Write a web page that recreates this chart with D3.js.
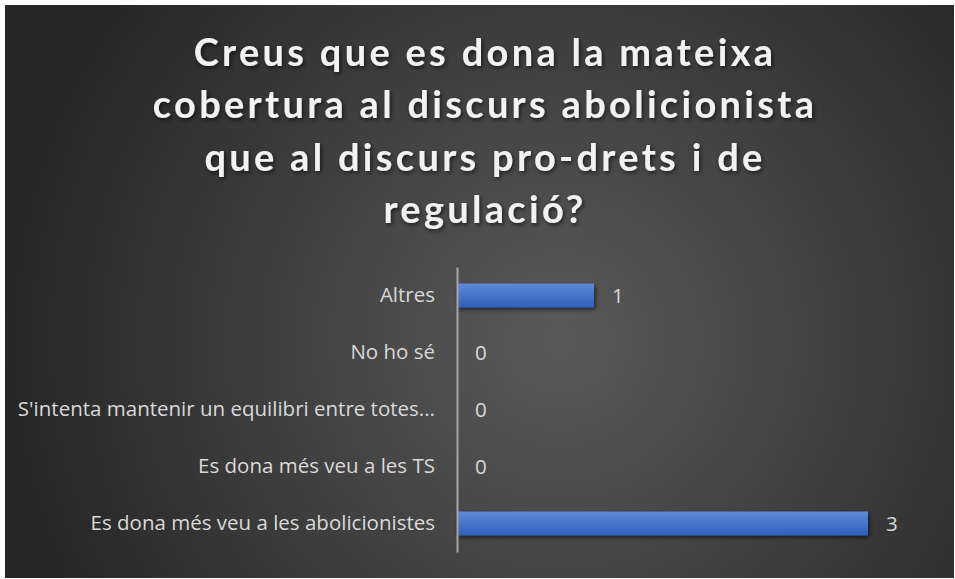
<!DOCTYPE html>
<html lang="ca">
<head>
  <meta charset="UTF-8">
  <title>Cobertura del discurs</title>
  <script src="https://d3js.org/d3.v7.min.js"></script>
  <style>
    body {
      margin: 0;
      background: #fff;
      font-family: "Open Sans", sans-serif;
    }
  </style>
</head>
<body>
  <svg width="955" height="579"></svg>

  <script>
    // data
    const titleLines = [
      "Creus que es dona la mateixa",
      "cobertura al discurs abolicionista",
      "que al discurs pro-drets i de",
      "regulació?"
    ];
    const categories = [
      "Altres",
      "No ho sé",
      "S'intenta mantenir un equilibri entre totes...",
      "Es dona més veu a les TS",
      "Es dona més veu a les abolicionistes"
    ];
    const values = [1, 0, 0, 0, 3];
    const data = categories.map((c, i) => ({ name: c, value: values[i] }));

    const svg = d3.select("svg");
    const defs = svg.append("defs");

    // dark radial background
    const bg = defs.append("radialGradient")
      .attr("id", "bg")
      .attr("gradientUnits", "userSpaceOnUse")
      .attr("cx", 560).attr("cy", 340).attr("r", 560);
    bg.append("stop").attr("offset", "0%").attr("stop-color", "#5a5a5a");
    bg.append("stop").attr("offset", "100%").attr("stop-color", "#262626");

    const barGrad = defs.append("linearGradient")
      .attr("id", "bar")
      .attr("x1", 0).attr("y1", 0).attr("x2", 0).attr("y2", 1);
    barGrad.append("stop").attr("offset", "0%").attr("stop-color", "#5f8ad8");
    barGrad.append("stop").attr("offset", "100%").attr("stop-color", "#2f5fba");

    const shadow = defs.append("filter").attr("id", "shadow")
      .attr("x", "-10%").attr("y", "-30%").attr("width", "130%").attr("height", "180%");
    shadow.append("feDropShadow")
      .attr("dx", 1.5).attr("dy", 2).attr("stdDeviation", 2)
      .attr("flood-color", "#000").attr("flood-opacity", 0.6);

    svg.append("rect")
      .attr("x", 5).attr("y", 5)
      .attr("width", 949).attr("height", 573)
      .attr("fill", "url(#bg)");

    // title
    svg.append("g")
      .attr("filter", "url(#shadow)")
      .selectAll("text")
      .data(titleLines)
      .join("text")
      .attr("x", 485)
      .attr("y", (d, i) => 66 + i * 52.3)
      .attr("text-anchor", "middle")
      .attr("font-family", "Lato, sans-serif")
      .attr("font-size", "38px")
      .attr("font-weight", "bold")
      .attr("letter-spacing", "3.3px")
      .attr("fill", "#f2f2f2")
      .text(d => d);

    // scales
    const x = d3.scaleLinear()
      .domain([0, 3])
      .range([457, 868]);

    const y = d3.scaleBand()
      .domain(categories)
      .range([267, 552])
      .paddingInner(0.58)
      .paddingOuter(0.29);

    // bars
    svg.append("g")
      .selectAll("rect")
      .data(data.filter(d => d.value > 0))
      .join("rect")
      .attr("x", x(0))
      .attr("y", d => y(d.name))
      .attr("width", d => x(d.value) - x(0))
      .attr("height", y.bandwidth())
      .attr("fill", "url(#bar)")
      .attr("filter", "url(#shadow)");

    // category axis
    const axis = svg.append("g")
      .attr("transform", `translate(${x(0)},0)`)
      .call(d3.axisLeft(y).tickSize(0).tickPadding(22));
    axis.select(".domain")
      .attr("stroke", "#a6a6a6")
      .attr("stroke-width", 2);
    axis.selectAll("text")
      .attr("fill", "#d9d9d9")
      .attr("font-family", "'Open Sans', sans-serif")
      .attr("font-size", "20.5px");

    // value labels
    svg.append("g")
      .selectAll("text")
      .data(data)
      .join("text")
      .attr("x", d => x(d.value) + 18)
      .attr("y", d => y(d.name) + y.bandwidth() / 2)
      .attr("dy", "0.35em")
      .attr("fill", "#d9d9d9")
      .attr("font-size", "20.5px")
      .text(d => d.value);
  </script>
</body>
</html>
